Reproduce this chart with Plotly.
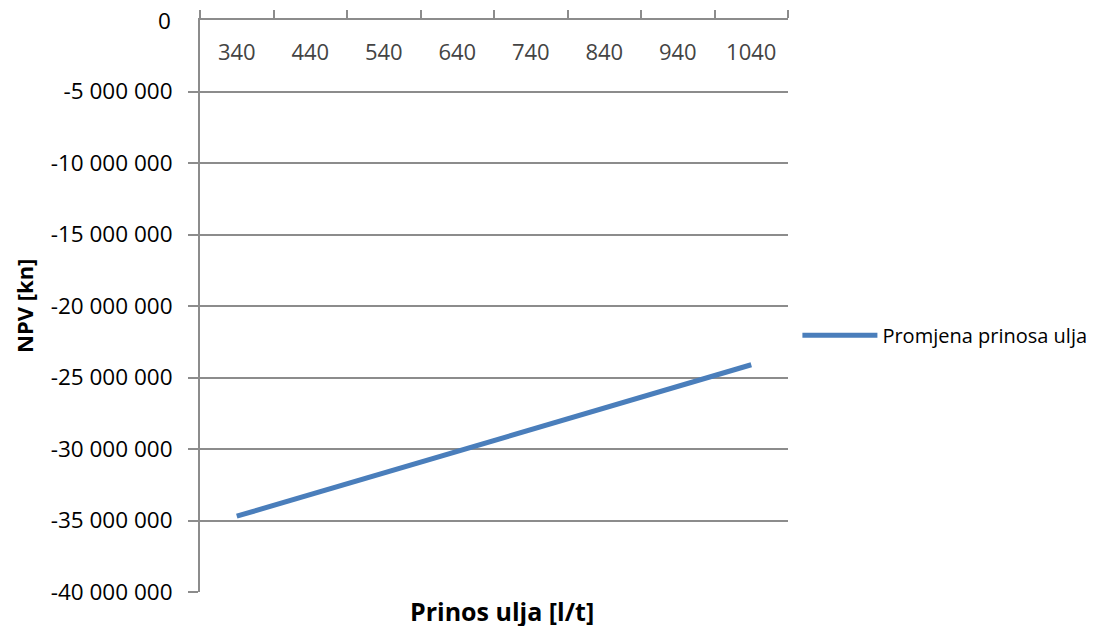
import plotly.graph_objects as go

categories = ["340", "440", "540", "640", "740", "840", "940", "1040"]
npv_values = [-34700000, -33190000, -31670000, -30160000, -28650000, -27140000, -25620000, -24110000]
series_name = "Promjena prinosa ulja"
y_tick_values = [0, -5000000, -10000000, -15000000, -20000000, -25000000, -30000000, -35000000, -40000000]
y_tick_labels = ["0", "-5 000 000", "-10 000 000", "-15 000 000", "-20 000 000",
                 "-25 000 000", "-30 000 000", "-35 000 000", "-40 000 000"]

FONT = "Open Sans"
GRID = "#8c8c8c"

fig = go.Figure()
fig.add_trace(go.Scatter(
    x=categories, y=npv_values, mode="lines", name=series_name,
    line=dict(color="#4a7ebb", width=5),
))

# page body has an 8px default margin, compensate in the figure margins
fig.update_layout(
    width=1099, height=618,
    margin=dict(l=192, r=319, t=12, b=34),
    paper_bgcolor="white", plot_bgcolor="white",
    font=dict(family=FONT, size=22, color="black"),
    showlegend=True,
    legend=dict(x=1.016, y=0.449, xanchor="left", yanchor="middle", itemwidth=75,
                font=dict(size=20, family=FONT), bgcolor="rgba(0,0,0,0)"),
)

fig.update_xaxes(
    type="category", side="top", range=[-0.5, 7.5], automargin=False,
    showline=True, linecolor=GRID, linewidth=2,
    ticks="outside", tickson="boundaries", ticklen=8, tickcolor=GRID, tickwidth=2,
    ticklabelposition="inside", ticklabelstandoff=26,
    showgrid=False, zeroline=False,
    tickfont=dict(size=22, family=FONT),
)
fig.update_yaxes(
    range=[-40000000, 0], tickvals=y_tick_values, ticktext=y_tick_labels,
    automargin=False,
    showgrid=True, gridcolor=GRID, gridwidth=2,
    showline=True, linecolor=GRID, linewidth=2,
    ticks="outside", ticklen=10, tickcolor=GRID, tickwidth=2,
    ticklabelstandoff=11,
    zeroline=False, tickfont=dict(size=22.5, family=FONT),
)

# top "0" label (hidden by plotly next to the inside category labels)
fig.add_annotation(
    text=y_tick_labels[0], xref="paper", yref="y", x=0, y=y_tick_values[0],
    xanchor="right", yanchor="middle", xshift=-27, showarrow=False,
    font=dict(size=22.5, family=FONT),
)
fig.add_annotation(
    text="<b>NPV [kn]</b>", xref="paper", yref="paper", textangle=-90,
    x=0, y=0.5, xanchor="center", yanchor="middle", xshift=-176, showarrow=False,
    font=dict(size=22, family=FONT),
)
fig.add_annotation(
    text="<b>Prinos ulja [l/t]</b>", xref="paper", yref="paper",
    x=0.5, y=0, xanchor="center", yanchor="middle", xshift=8, yshift=-19, showarrow=False,
    font=dict(size=25, family=FONT),
)

fig.write_html("out.html")
